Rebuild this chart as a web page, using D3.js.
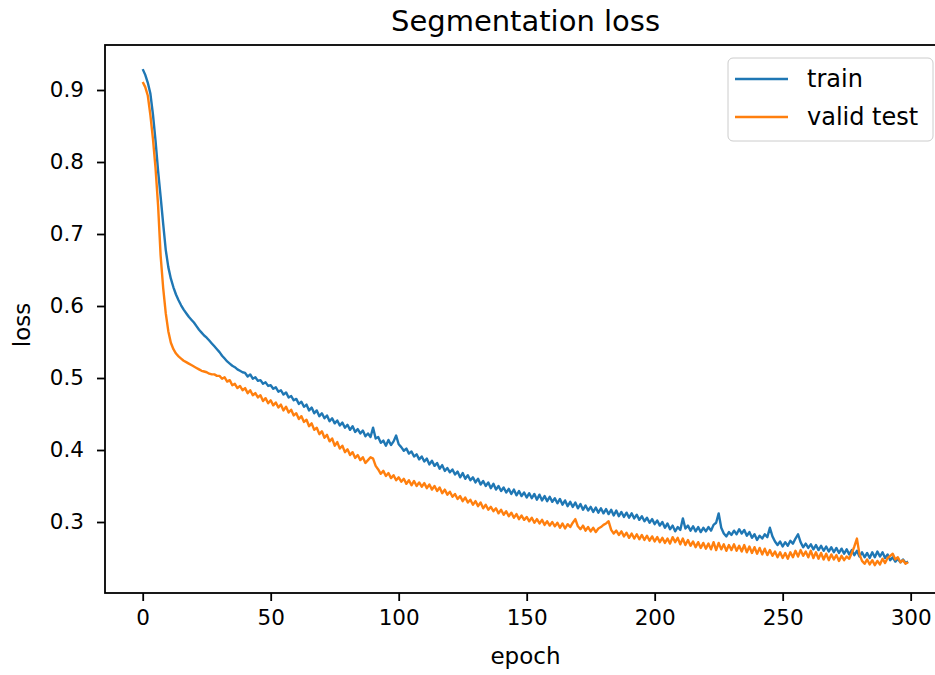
<!DOCTYPE html>
<html>
<head>
<meta charset="utf-8">
<script src="https://cdn.jsdelivr.net/npm/d3@7"></script>
<style>
  body { margin: 0; background: #fff; }
  svg text { font-family: "DejaVu Sans", sans-serif; fill: #000; }
</style>
</head>
<body>
<svg id="loss-chart" width="935" height="675"></svg>
<script>
// loss per epoch
const trainLoss = [
  0.929, 0.921, 0.910, 0.895, 0.866, 0.830, 0.788, 0.752, 0.714, 0.678,
  0.654, 0.638, 0.626, 0.616, 0.608, 0.601, 0.595, 0.590, 0.585, 0.581,
  0.577, 0.572, 0.567, 0.563, 0.559, 0.556, 0.552, 0.548, 0.544, 0.540,
  0.536, 0.531, 0.527, 0.523, 0.520, 0.517, 0.515, 0.512, 0.510, 0.508,
  0.507, 0.502, 0.505, 0.499, 0.501, 0.496, 0.497, 0.492, 0.494, 0.489,
  0.490, 0.485, 0.487, 0.481, 0.483, 0.477, 0.480, 0.473, 0.475, 0.469,
  0.471, 0.464, 0.467, 0.460, 0.463, 0.455, 0.459, 0.451, 0.455, 0.447,
  0.451, 0.444, 0.448, 0.440, 0.444, 0.437, 0.441, 0.434, 0.438, 0.431,
  0.435, 0.428, 0.433, 0.425, 0.429, 0.423, 0.427, 0.419, 0.423, 0.418,
  0.431, 0.416, 0.418, 0.410, 0.413, 0.406, 0.414, 0.407, 0.412, 0.420,
  0.408, 0.404, 0.399, 0.402, 0.395, 0.398, 0.391, 0.394, 0.387, 0.391,
  0.384, 0.388, 0.380, 0.385, 0.378, 0.382, 0.374, 0.379, 0.371, 0.375,
  0.369, 0.373, 0.366, 0.370, 0.362, 0.368, 0.360, 0.365, 0.358, 0.362,
  0.355, 0.360, 0.352, 0.357, 0.350, 0.355, 0.347, 0.353, 0.345, 0.350,
  0.343, 0.348, 0.341, 0.346, 0.339, 0.345, 0.337, 0.343, 0.336, 0.341,
  0.334, 0.340, 0.333, 0.339, 0.331, 0.338, 0.330, 0.336, 0.329, 0.335,
  0.328, 0.333, 0.326, 0.332, 0.324, 0.330, 0.322, 0.328, 0.321, 0.327,
  0.319, 0.325, 0.317, 0.323, 0.316, 0.321, 0.314, 0.320, 0.313, 0.319,
  0.312, 0.318, 0.311, 0.317, 0.309, 0.316, 0.308, 0.314, 0.307, 0.313,
  0.306, 0.312, 0.305, 0.310, 0.303, 0.308, 0.301, 0.306, 0.299, 0.304,
  0.297, 0.302, 0.295, 0.300, 0.292, 0.298, 0.290, 0.295, 0.287, 0.293,
  0.289, 0.305, 0.291, 0.295, 0.288, 0.294, 0.287, 0.293, 0.286, 0.292,
  0.287, 0.293, 0.288, 0.296, 0.299, 0.312, 0.292, 0.284, 0.280, 0.286,
  0.282, 0.288, 0.283, 0.290, 0.284, 0.289, 0.281, 0.286, 0.278, 0.283,
  0.275, 0.281, 0.277, 0.283, 0.279, 0.292, 0.280, 0.273, 0.268, 0.273,
  0.266, 0.272, 0.267, 0.274, 0.270, 0.277, 0.283, 0.272, 0.265, 0.270,
  0.264, 0.269, 0.262, 0.268, 0.261, 0.267, 0.260, 0.266, 0.259, 0.265,
  0.258, 0.264, 0.257, 0.263, 0.256, 0.262, 0.255, 0.261, 0.254, 0.260,
  0.252, 0.258, 0.251, 0.257, 0.250, 0.258, 0.251, 0.259, 0.252, 0.258,
  0.250, 0.255, 0.247, 0.251, 0.245, 0.249, 0.244, 0.248, 0.243, 0.245
];
const validLoss = [
  0.911, 0.904, 0.892, 0.865, 0.832, 0.792, 0.740, 0.670, 0.625, 0.590,
  0.565, 0.549, 0.540, 0.534, 0.530, 0.527, 0.524, 0.522, 0.520, 0.518,
  0.516, 0.514, 0.512, 0.510, 0.509, 0.508, 0.506, 0.505, 0.505, 0.503,
  0.503, 0.499, 0.501, 0.495, 0.497, 0.490, 0.492, 0.486, 0.489, 0.483,
  0.486, 0.479, 0.483, 0.476, 0.479, 0.473, 0.476, 0.468, 0.472, 0.465,
  0.469, 0.462, 0.466, 0.459, 0.463, 0.455, 0.460, 0.452, 0.456, 0.448,
  0.451, 0.443, 0.447, 0.439, 0.442, 0.433, 0.437, 0.428, 0.431, 0.422,
  0.426, 0.417, 0.421, 0.412, 0.416, 0.406, 0.411, 0.402, 0.406, 0.397,
  0.401, 0.393, 0.397, 0.389, 0.393, 0.386, 0.390, 0.382, 0.386, 0.390,
  0.388, 0.378, 0.373, 0.367, 0.371, 0.364, 0.368, 0.361, 0.365, 0.358,
  0.362, 0.356, 0.360, 0.353, 0.358, 0.351, 0.357, 0.350, 0.355, 0.349,
  0.354, 0.347, 0.352, 0.345, 0.350, 0.343, 0.348, 0.340, 0.345, 0.338,
  0.342, 0.335, 0.339, 0.332, 0.336, 0.329, 0.334, 0.327, 0.331, 0.324,
  0.329, 0.322, 0.327, 0.319, 0.324, 0.317, 0.321, 0.315, 0.319, 0.312,
  0.317, 0.310, 0.315, 0.308, 0.313, 0.306, 0.311, 0.304, 0.309, 0.303,
  0.307, 0.301, 0.306, 0.299, 0.304, 0.298, 0.303, 0.296, 0.301, 0.295,
  0.300, 0.294, 0.299, 0.292, 0.298, 0.291, 0.297, 0.293, 0.299, 0.304,
  0.294, 0.290, 0.295, 0.288, 0.293, 0.287, 0.292, 0.286, 0.291, 0.293,
  0.296, 0.298, 0.301, 0.289, 0.284, 0.288, 0.282, 0.287, 0.280, 0.285,
  0.278, 0.284, 0.277, 0.283, 0.276, 0.282, 0.275, 0.281, 0.274, 0.280,
  0.273, 0.279, 0.272, 0.278, 0.271, 0.277, 0.270, 0.279, 0.272, 0.278,
  0.269, 0.277, 0.268, 0.275, 0.267, 0.273, 0.265, 0.272, 0.264, 0.271,
  0.263, 0.270, 0.262, 0.272, 0.261, 0.271, 0.262, 0.269, 0.260, 0.268,
  0.261, 0.269, 0.260, 0.267, 0.259, 0.268, 0.258, 0.266, 0.257, 0.265,
  0.256, 0.264, 0.255, 0.263, 0.254, 0.261, 0.253, 0.259, 0.251, 0.258,
  0.250, 0.257, 0.249, 0.258, 0.251, 0.260, 0.252, 0.261, 0.253, 0.259,
  0.251, 0.260, 0.250, 0.258, 0.249, 0.257, 0.248, 0.256, 0.247, 0.255,
  0.248, 0.254, 0.246, 0.253, 0.247, 0.252, 0.249, 0.257, 0.266, 0.277,
  0.255, 0.246, 0.242, 0.248, 0.241, 0.247, 0.240, 0.246, 0.241, 0.249,
  0.243, 0.250, 0.253, 0.256, 0.248, 0.251, 0.244, 0.247, 0.242, 0.244
];
const xTicks = [0, 50, 100, 150, 200, 250, 300];
const yTicks = [0.3, 0.4, 0.5, 0.6, 0.7, 0.8, 0.9];
const seriesNames = ["train", "valid test"];
const seriesColors = ["#1f77b4", "#ff7f0e"];

const svg = d3.select("svg#loss-chart");
// the axes box runs past the right edge of the picture, as in the reference
const box = { left: 105, right: 946, top: 45, bottom: 593 };

const xScale = d3.scaleLinear().domain([-14.73, 313.8]).range([box.left, box.right]);
const yScale = d3.scaleLinear().domain([0.2014, 0.9625]).range([box.bottom, box.top]);

svg.append("defs")
  .append("clipPath")
  .attr("id", "plot-clip")
  .append("rect")
  .attr("x", box.left)
  .attr("y", box.top)
  .attr("width", box.right - box.left)
  .attr("height", box.bottom - box.top);

const lineGen = d3.line()
  .x((d, i) => xScale(i))
  .y((d) => yScale(d));

const plotArea = svg.append("g").attr("clip-path", "url(#plot-clip)");
[trainLoss, validLoss].forEach((series, idx) => {
  plotArea.append("path")
    .datum(series)
    .attr("fill", "none")
    .attr("stroke", seriesColors[idx])
    .attr("stroke-width", 2.4)
    .attr("stroke-linejoin", "round")
    .attr("d", lineGen);
});

// axes
const xAxis = d3.axisBottom(xScale).tickValues(xTicks).tickSize(8).tickPadding(9).tickFormat(d3.format("d"));
const yAxis = d3.axisLeft(yScale).tickValues(yTicks).tickSize(8).tickPadding(13).tickFormat(d3.format(".1f"));

svg.append("g")
  .attr("class", "x-axis")
  .attr("transform", `translate(0, ${box.bottom})`)
  .call(xAxis);
svg.append("g")
  .attr("class", "y-axis")
  .attr("transform", `translate(${box.left}, 0)`)
  .call(yAxis);

svg.selectAll(".x-axis, .y-axis")
  .call((g) => g.select(".domain").remove())
  .call((g) => g.selectAll(".tick line").attr("stroke", "#000").attr("stroke-width", 1.8))
  .call((g) => g.selectAll(".tick text").attr("font-size", 21.5).attr("fill", "#000"));

// spines
svg.append("rect")
  .attr("class", "spines")
  .attr("x", box.left)
  .attr("y", box.top)
  .attr("width", box.right - box.left)
  .attr("height", box.bottom - box.top)
  .attr("fill", "none")
  .attr("stroke", "#000")
  .attr("stroke-width", 1.8);

// labels
svg.append("text")
  .attr("x", (box.left + box.right) / 2)
  .attr("y", 31)
  .attr("text-anchor", "middle")
  .attr("font-size", 29)
  .text("Segmentation loss");

svg.append("text")
  .attr("x", (box.left + box.right) / 2)
  .attr("y", 664)
  .attr("text-anchor", "middle")
  .attr("font-size", 23)
  .text("epoch");

svg.append("text")
  .attr("transform", `translate(30, ${(box.top + box.bottom) / 2 + 6}) rotate(-90)`)
  .attr("text-anchor", "middle")
  .attr("font-size", 23)
  .text("loss");

// legend
const legend = svg.append("g").attr("class", "legend").attr("transform", "translate(728, 58)");
legend.append("rect")
  .attr("width", 205)
  .attr("height", 83)
  .attr("rx", 5)
  .attr("fill", "#fff")
  .attr("fill-opacity", 0.8)
  .attr("stroke", "#cccccc");
seriesNames.forEach((name, i) => {
  const cy = 21 + i * 38;
  legend.append("line")
    .attr("x1", 7)
    .attr("x2", 60)
    .attr("y1", cy)
    .attr("y2", cy)
    .attr("stroke", seriesColors[i])
    .attr("stroke-width", 2.4);
  legend.append("text")
    .attr("x", 79)
    .attr("y", cy)
    .attr("dy", "0.35em")
    .attr("font-size", 24)
    .text(name);
});
</script>
</body>
</html>
